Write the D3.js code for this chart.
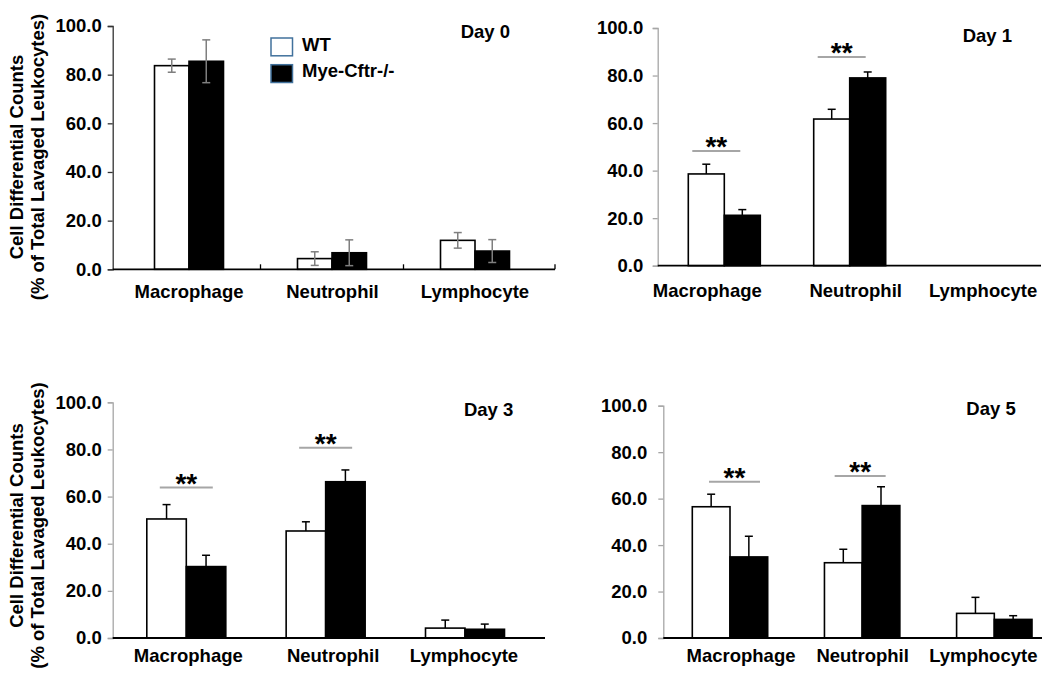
<!DOCTYPE html>
<html>
<head>
<meta charset="utf-8">
<script src="https://cdn.jsdelivr.net/npm/d3@7"></script>
<style>
  html, body { margin: 0; padding: 0; background: #fff; }
  svg text { font-family: "Liberation Sans", Arial, sans-serif; font-weight: bold; fill: #000; }
</style>
</head>
<body>
<svg id="chart" width="1050" height="679"></svg>
<script>
// ---------- DATA ----------
const categories = ["Macrophage", "Neutrophil", "Lymphocyte"];
const seriesNames = ["WT", "Mye-Cftr-/-"];
const dayLabels = ["Day 0", "Day 1", "Day 3", "Day 5"];
const yTicks = [0, 20, 40, 60, 80, 100];
const yTitle1 = "Cell Differential Counts";
const yTitle2 = "(% of Total Lavaged Leukocytes)";

const day0WT = [83.7, 4.4, 11.9];
const day0Mye = [85.5, 6.8, 7.5];
const day0WTErr = [2.7, 2.8, 3.2];
const day0MyeErr = [8.8, 5.3, 4.7];

const day1WT = [38.6, 61.7, null];
const day1Mye = [21.2, 79.0, null];
const day1WTErr = [4.1, 4.1, null];
const day1MyeErr = [2.4, 2.5, null];

const day3WT = [50.5, 45.4, 4.2];
const day3Mye = [30.3, 66.3, 3.7];
const day3WTErr = [6.1, 3.9, 3.4];
const day3MyeErr = [4.8, 5.0, 2.2];

const day5WT = [56.5, 32.4, 10.6];
const day5Mye = [34.9, 57.0, 8.0];
const day5WTErr = [5.4, 5.8, 6.9];
const day5MyeErr = [8.9, 8.1, 1.6];

// significance marks (category index, bracket level in data units)
const day1Sig = [[0, 48.3], [1, 87.8]];
const day3Sig = [[0, 63.8], [1, 80.7]];
const day5Sig = [[0, 67.3], [1, 69.7]];
const sigText = "**";

// ---------- LAYOUT ----------
const FS = 18.5;
const panels = [
  { day: dayLabels[0], wt: day0WT, mye: day0Mye, wtErr: day0WTErr, myeErr: day0MyeErr, sig: [],
    axisX: 112.7, axisEnd: 555, yTop: 26, yBot: 269.3, centers: [189, 475], barW: 34.5,
    labelDx: [0, 0.5, 0], labelY: 297.5, tickGap: 11, yAxisColor: "#333", twoSided: true, xTicks: true,
    dayX: 510, dayY: 38, legend: true, title: true, titleCY: 157, sigW: 0, sigDx: [0, 0] },
  { day: dayLabels[1], wt: day1WT, mye: day1Mye, wtErr: day1WTErr, myeErr: day1MyeErr, sig: day1Sig,
    axisX: 657.7, axisEnd: 1041, yTop: 28, yBot: 265.7, centers: [724.3, 975.1], barW: 36,
    labelDx: [-17, 6, 8], labelY: 296.5, tickGap: 14.5, yAxisColor: "#a6a6a6", twoSided: false, xTicks: false,
    dayX: 1012, dayY: 42.3, legend: false, title: false, sigW: 48, sigDx: [-8, -8] },
  { day: dayLabels[2], wt: day3WT, mye: day3Mye, wtErr: day3WTErr, myeErr: day3MyeErr, sig: day3Sig,
    axisX: 112.7, axisEnd: 545, yTop: 402.3, yBot: 638, centers: [186.3, 465], barW: 39.5,
    labelDx: [2, 7.5, -1], labelY: 661.5, tickGap: 11, yAxisColor: "#a6a6a6", twoSided: false, xTicks: false,
    dayX: 513.3, dayY: 416, legend: false, title: true, titleCY: 525.5, sigW: 53, sigDx: [0, 0] },
  { day: dayLabels[3], wt: day5WT, mye: day5Mye, wtErr: day5WTErr, myeErr: day5MyeErr, sig: day5Sig,
    axisX: 663.3, axisEnd: 1042, yTop: 405.7, yBot: 638, centers: [730, 994.3], barW: 37.7,
    labelDx: [11, 0.5, -11], labelY: 662, tickGap: 16, yAxisColor: "#a6a6a6", twoSided: false, xTicks: false,
    dayX: 1015.7, dayY: 415, legend: false, title: false, sigW: 51, sigDx: [4.5, -2] }
];

const svg = d3.select("#chart");
const fills = ["#ffffff", "#000000"];

panels.forEach(p => {
  const g = svg.append("g");
  const y = d3.scaleLinear().domain([0, 100]).range([p.yBot, p.yTop]);
  const step = (p.centers[1] - p.centers[0]) / (categories.length - 1);
  const x = d3.scaleBand().domain(categories)
    .range([p.centers[0] - step / 2, p.centers[1] + step / 2]).paddingInner(0).paddingOuter(0);
  const cx = c => x(c) + x.bandwidth() / 2;
  const xs = c => d3.scaleBand().domain(seriesNames).range([cx(c) - p.barW, cx(c) + p.barW]);

  // y axis
  const yAxis = d3.axisLeft(y).tickValues(yTicks).tickFormat(d3.format(".1f")).tickSize(5).tickPadding(p.tickGap - 5);
  const ya = g.append("g").attr("transform", `translate(${p.axisX},0)`).call(yAxis);
  ya.select(".domain").attr("stroke", p.yAxisColor).attr("stroke-width", 1.3);
  ya.selectAll(".tick line").attr("stroke", p.yAxisColor).attr("stroke-width", 1.3);
  ya.selectAll(".tick text").attr("font-size", FS).attr("font-family", "Liberation Sans, Arial, sans-serif")
    .attr("font-weight", "bold").attr("fill", "#000");

  // bars
  const rows = [];
  categories.forEach((c, i) => {
    [[p.wt, p.wtErr], [p.mye, p.myeErr]].forEach((arr, s) => {
      if (arr[0][i] != null) rows.push({ c, s, v: arr[0][i], e: arr[1][i] });
    });
  });
  g.selectAll("rect.bar").data(rows).join("rect").attr("class", "bar")
    .attr("x", d => xs(d.c)(seriesNames[d.s]))
    .attr("width", d => xs(d.c).bandwidth())
    .attr("y", d => y(d.v))
    .attr("height", d => y(0) - y(d.v))
    .attr("fill", d => fills[d.s])
    .attr("stroke", "#000").attr("stroke-width", 1.6);

  // error bars
  const errColor = p.twoSided ? "#7f7f7f" : "#000";
  const eg = g.selectAll("g.err").data(rows).join("g").attr("class", "err")
    .attr("stroke", errColor).attr("stroke-width", 1.5);
  const mid = d => xs(d.c)(seriesNames[d.s]) + xs(d.c).bandwidth() / 2;
  eg.append("line")
    .attr("x1", mid).attr("x2", mid)
    .attr("y1", d => p.twoSided ? y(d.v - d.e) : y(d.v))
    .attr("y2", d => y(d.v + d.e));
  eg.append("line")
    .attr("x1", d => mid(d) - 4).attr("x2", d => mid(d) + 4)
    .attr("y1", d => y(d.v + d.e)).attr("y2", d => y(d.v + d.e));
  if (p.twoSided) {
    eg.append("line")
      .attr("x1", d => mid(d) - 4).attr("x2", d => mid(d) + 4)
      .attr("y1", d => y(d.v - d.e)).attr("y2", d => y(d.v - d.e));
  }

  // x axis line
  g.append("line").attr("x1", p.axisX).attr("x2", p.axisEnd)
    .attr("y1", y(0)).attr("y2", y(0)).attr("stroke", "#000").attr("stroke-width", 1.8);
  if (p.xTicks) {
    const tickXs = categories.slice(1).map(c => x(c)).concat([p.axisEnd]);
    g.selectAll("line.xt").data(tickXs).join("line").attr("class", "xt")
      .attr("x1", d => d).attr("x2", d => d).attr("y1", y(0)).attr("y2", y(0) - 5)
      .attr("stroke", "#000").attr("stroke-width", 1.3);
  }

  // category labels
  g.selectAll("text.cat").data(categories).join("text").attr("class", "cat")
    .attr("x", (c, i) => cx(c) + p.labelDx[i]).attr("y", p.labelY)
    .attr("text-anchor", "middle").attr("font-size", FS).text(c => c);

  // significance
  p.sig.forEach(([ci, lvl], k) => {
    const c = categories[ci];
    const mx = cx(c) + p.sigDx[k];
    g.append("line").attr("x1", mx - p.sigW / 2).attr("x2", mx + p.sigW / 2)
      .attr("y1", y(lvl)).attr("y2", y(lvl)).attr("stroke", "#a6a6a6").attr("stroke-width", 2);
    g.append("text").attr("x", mx).attr("y", y(lvl) + 5)
      .attr("text-anchor", "middle").attr("font-size", 28).text(sigText);
  });

  // day label
  g.append("text").attr("x", p.dayX).attr("y", p.dayY).attr("text-anchor", "end")
    .attr("font-size", FS).text(p.day);

  // y title
  if (p.title) {
    g.append("text").attr("transform", `translate(23,${p.titleCY}) rotate(-90)`)
      .attr("text-anchor", "middle").attr("font-size", FS).text(yTitle1);
    g.append("text").attr("transform", `translate(44,${p.titleCY}) rotate(-90)`)
      .attr("text-anchor", "middle").attr("font-size", FS).text(yTitle2);
  }

  // legend
  if (p.legend) {
    const lg = g.append("g").attr("transform", "translate(271,38)");
    seriesNames.forEach((s, i) => {
      lg.append("rect").attr("x", 0).attr("y", i * 26.7).attr("width", 21.5).attr("height", 17.8)
        .attr("fill", fills[i]).attr("stroke", "#41719c").attr("stroke-width", 1.5);
      lg.append("text").attr("x", 31).attr("y", i * 26.7 + 12.5).attr("font-size", FS).text(s);
    });
  }
});
</script>
</body>
</html>
